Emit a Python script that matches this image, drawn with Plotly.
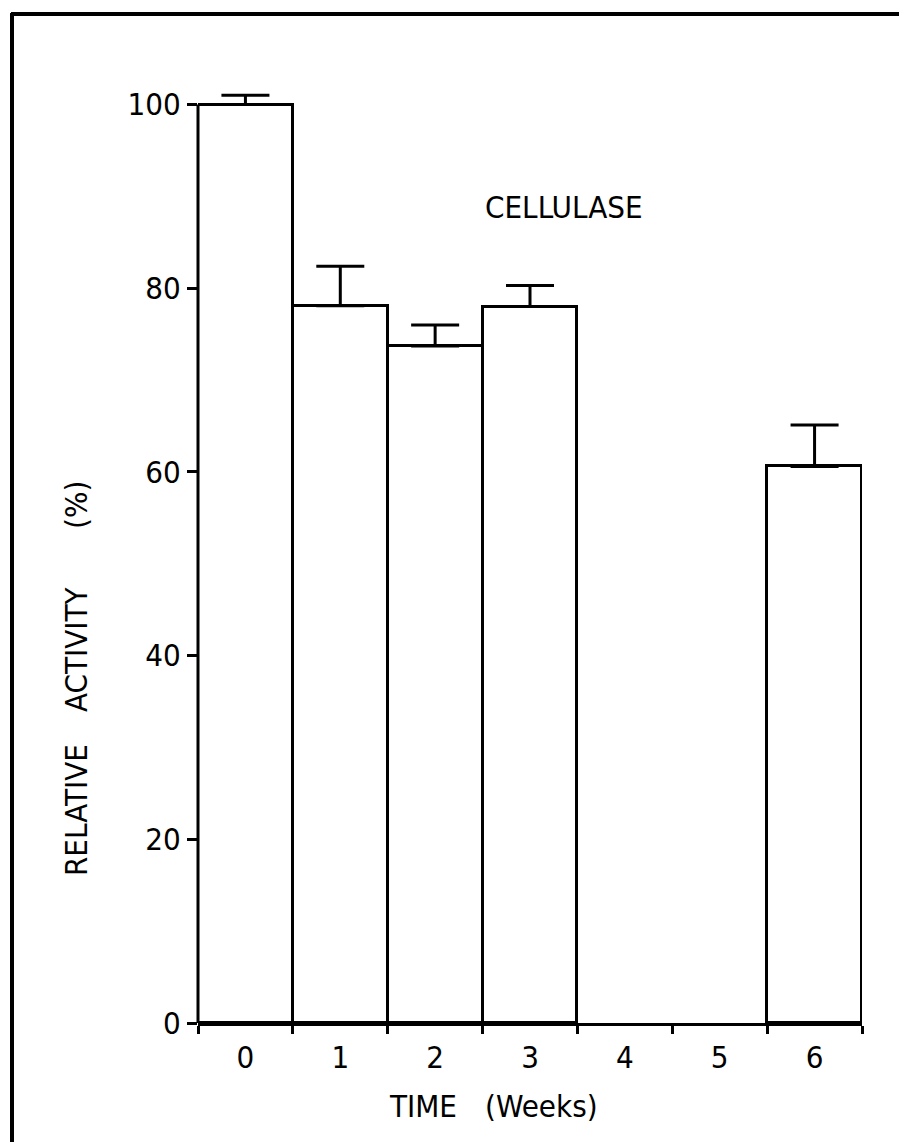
import plotly.graph_objects as go

weeks = ["0", "1", "2", "3", "4", "5", "6"]
activity = [100, 78.1, 73.7, 78.0, None, None, 60.6]
err_up = [1.0, 4.3, 2.3, 2.3, None, None, 4.5]
yticks = [0, 20, 40, 60, 80, 100]

W, H = 899, 1142
YTOP = 103
UNIT = 9.18
L, R, B = 198, 37, 119
T = round(H - B - YTOP * UNIT)
PW, PH = W - L - R, H - T - B

def px(x):
    return (x - L) / PW

def py(y):
    return (H - B - y) / PH

FONT = "Liberation Sans Narrow, DejaVu Sans Condensed, Liberation Sans, sans-serif"

fig = go.Figure()
fig.add_trace(go.Bar(
    x=weeks, y=activity,
    marker=dict(color="white", line=dict(color="black", width=3)),
    error_y=dict(type="data", array=err_up, arrayminus=[0]*7, symmetric=False,
                 color="black", thickness=3, width=24),
    width=1.0, cliponaxis=False,
))

fig.update_layout(
    width=W, height=H,
    margin=dict(l=L, r=R, t=T, b=B, pad=0),
    paper_bgcolor="white", plot_bgcolor="white",
    bargap=0, showlegend=False,
    font=dict(family=FONT, size=31, color="black"),
    xaxis=dict(type="category", categoryorder="array", categoryarray=weeks,
               range=[-0.5, 6.5], tickson="boundaries", ticks="outside",
               ticklen=8, tickwidth=3, tickcolor="black",
               showline=True, linecolor="black", linewidth=3,
               showgrid=False, zeroline=False, ticklabelstandoff=5,
               tickfont=dict(family=FONT, size=31, color="black")),
    yaxis=dict(range=[0, YTOP], tickvals=yticks, ticks="outside",
               ticklen=10, tickwidth=3, tickcolor="black",
               showline=False, showgrid=False, zeroline=False,
               tickfont=dict(family=FONT, size=31, color="black")),
)

# y axis line from 0 to 100 only
fig.add_shape(type="line", xref="paper", yref="y",
              x0=0, x1=0, y0=0, y1=100,
              line=dict(color="black", width=3))

ann = [
    dict(text="CELLULASE", x=px(564), y=py(207)),
    dict(text="TIME", x=px(423), y=py(1106)),
    dict(text="(Weeks)", x=px(541), y=py(1106)),
    dict(text="RELATIVE", x=px(76), y=py(810), textangle=-90),
    dict(text="ACTIVITY", x=px(76), y=py(649), textangle=-90),
    dict(text="(%)", x=px(76), y=py(505), textangle=-90),
]
for a in ann:
    fig.add_annotation(xref="paper", yref="paper", showarrow=False,
                       xanchor="center", yanchor="middle",
                       font=dict(family=FONT, size=31, color="black"), **a)

# outer frame (top and left edges)
fig.add_shape(type="line", xref="paper", yref="paper",
              x0=px(11), x1=px(905), y0=py(14), y1=py(14),
              line=dict(color="black", width=4))
fig.add_shape(type="line", xref="paper", yref="paper",
              x0=px(12), x1=px(12), y0=py(13), y1=py(1150),
              line=dict(color="black", width=4))

fig.write_html("out.html")
